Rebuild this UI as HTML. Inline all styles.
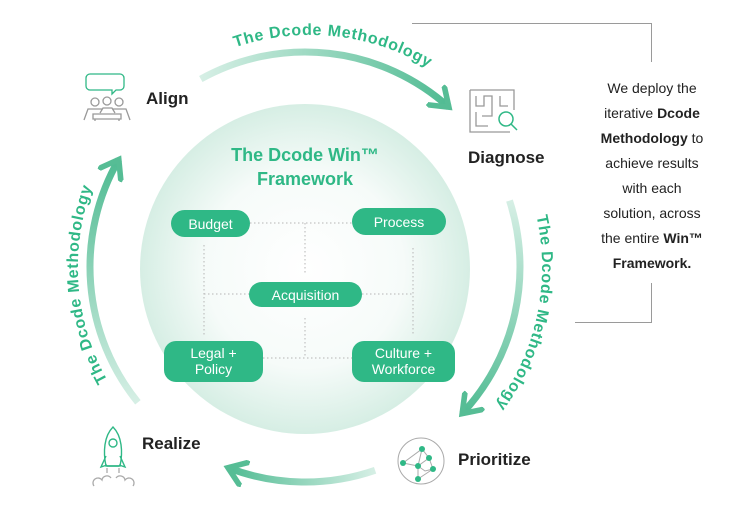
<!DOCTYPE html>
<html><head><meta charset="utf-8"><style>
body{margin:0;background:#fff;}
svg{display:block;font-family:"Liberation Sans",sans-serif;}
</style></head><body>
<svg width="741" height="522" viewBox="0 0 741 522">
<defs>
<radialGradient id="bg" cx="0.5" cy="0.5" r="0.5">
<stop offset="0" stop-color="#ffffff"/><stop offset="0.6" stop-color="#f6fbf9"/><stop offset="1" stop-color="#d6eee4"/>
</radialGradient>
<linearGradient id="gT" gradientUnits="userSpaceOnUse" x1="200.8" y1="79" x2="448.9" y2="107.2"><stop offset="0" stop-color="#d6efe5"/><stop offset="1" stop-color="#4fbb92"/></linearGradient>
<linearGradient id="gR" gradientUnits="userSpaceOnUse" x1="509.5" y1="200.6" x2="462.2" y2="413.6"><stop offset="0" stop-color="#d6efe5"/><stop offset="1" stop-color="#4fbb92"/></linearGradient>
<linearGradient id="gB" gradientUnits="userSpaceOnUse" x1="375.1" y1="470.3" x2="228" y2="467.7"><stop offset="0" stop-color="#d6efe5"/><stop offset="1" stop-color="#4fbb92"/></linearGradient>
<linearGradient id="gL" gradientUnits="userSpaceOnUse" x1="137.9" y1="402.3" x2="118.8" y2="159.5"><stop offset="0" stop-color="#d6efe5"/><stop offset="1" stop-color="#4fbb92"/></linearGradient>
<marker id="ah" viewBox="0 0 12 12" refX="8" refY="6" markerWidth="4" markerHeight="4" orient="auto" markerUnits="strokeWidth">
<path d="M1,1 L8,6 L1,11" fill="none" stroke="#56bd95" stroke-width="2.4" stroke-linecap="square"/>
</marker>
<path id="tp" d="M310,499 A232,232 0 1,1 310,35 A232,232 0 1,1 310,499"/>
</defs>

<circle cx="305" cy="269" r="165" fill="url(#bg)"/>

<g fill="none" stroke-width="7" marker-end="url(#ah)">
<path d="M200.8,79 A215,215 0 0,1 448.9,107.2" stroke="url(#gT)"/>
<path d="M509.5,200.6 A215,215 0 0,1 462.2,413.6" stroke="url(#gR)"/>
<path d="M375.1,470.3 A215,215 0 0,1 228,467.7" stroke="url(#gB)"/>
<path d="M137.9,402.3 A215,215 0 0,1 118.8,159.5" stroke="url(#gL)"/>
</g>

<g fill="#2fb886" font-weight="bold" font-size="16" letter-spacing="0.7">
<text text-anchor="middle"><textPath href="#tp" startOffset="753">The Dcode Methodology</textPath></text>
<text text-anchor="middle"><textPath href="#tp" startOffset="1142">The Dcode Methodology</textPath></text>
<text text-anchor="middle"><textPath href="#tp" startOffset="346">The Dcode Methodology</textPath></text>
</g>

<g stroke="#9a9a9a" stroke-width="1" fill="none">
<path d="M412,23.5 H651.5 V62"/>
<path d="M651.5,283 V322.5 H575"/>
</g>
<g font-size="14" fill="#222" text-anchor="middle">
<text x="652" y="93">We deploy the</text>
<text x="652" y="118">iterative <tspan font-weight="bold">Dcode</tspan></text>
<text x="652" y="143"><tspan font-weight="bold">Methodology</tspan> to</text>
<text x="652" y="168">achieve results</text>
<text x="652" y="193">with each</text>
<text x="652" y="218">solution, across</text>
<text x="652" y="243">the entire <tspan font-weight="bold">Win™</tspan></text>
<text x="652" y="268" font-weight="bold">Framework.</text>
</g>

<g fill="#2fb886" font-weight="bold" font-size="18" text-anchor="middle">
<text x="305" y="161">The Dcode Win™</text>
<text x="305" y="185">Framework</text>
</g>
<g stroke="#b5b5b5" stroke-width="1" stroke-dasharray="1.5,2.5" fill="none">
<path d="M250,223 H352"/>
<path d="M305,223 V273"/>
<path d="M204,245 V335"/>
<path d="M204,294 H249"/>
<path d="M362,294 H413"/>
<path d="M413,248 V336"/>
<path d="M305,318 V358"/>
<path d="M263,358 H352"/>
</g>
<g fill="#2fb886">
<rect x="171" y="210" width="79" height="27" rx="13.5"/>
<rect x="352" y="208" width="94" height="27" rx="13.5"/>
<rect x="249" y="282" width="113" height="25" rx="12.5"/>
<rect x="164" y="341" width="99" height="41" rx="12"/>
<rect x="352" y="341" width="103" height="41" rx="12"/>
</g>
<g fill="#fff" font-size="14" text-anchor="middle">
<text x="210.5" y="229">Budget</text>
<text x="399" y="227">Process</text>
<text x="305.5" y="300">Acquisition</text>
<text x="213.5" y="358">Legal +</text>
<text x="213.5" y="374">Policy</text>
<text x="403.5" y="358">Culture +</text>
<text x="403.5" y="374">Workforce</text>
</g>

<g fill="#222" font-weight="bold" font-size="17">
<text x="146" y="104">Align</text>
<text x="468" y="163">Diagnose</text>
<text x="458" y="465">Prioritize</text>
<text x="142" y="449">Realize</text>
</g>

<g fill="none" stroke-width="1.3">
<path d="M90,74 h30 a4,4 0 0 1 4,4 v8 a4,4 0 0 1 -4,4 h-4 l-4,4 v-4 h-22 a4,4 0 0 1 -4,-4 v-8 a4,4 0 0 1 4,-4z" stroke="#2fb886"/>
<g stroke="#999">
<circle cx="95" cy="102" r="4"/><circle cx="107" cy="101" r="4"/><circle cx="119" cy="102" r="4"/>
<path d="M84,120 l4,-11 h14 M100,113 l3,-5 h9 l3,5 M112,109 h14 l4,11"/>
<path d="M93,114 h28 v5 h-28z"/>
<path d="M95,119 v2 M119,119 v2"/>
</g></g>

<g fill="none" stroke="#999" stroke-width="1.3">
<path d="M470,90 h44 v20 M470,90 v42 h40"/>
<path d="M476,96 v10 h8 v-10 h8 v20 h-10 M476,112 v14 h12 M500,96 v10 h8"/>
</g>
<g fill="none" stroke="#2fb886" stroke-width="1.5">
<circle cx="506" cy="119" r="7"/><path d="M511,124 l6,6"/>
</g>

<g fill="none" stroke="#aaa" stroke-width="1">
<circle cx="421" cy="461" r="23"/>
<path d="M403,463 L422,449 L429,458 L418,466 L425,471 L433,469 L429,458 M403,463 L418,466 L418,479 L433,469 M422,449 L418,466"/>
</g>
<g fill="#2fb886">
<circle cx="422" cy="449" r="3"/><circle cx="429" cy="458" r="3"/><circle cx="403" cy="463" r="3"/>
<circle cx="418" cy="466" r="3"/><circle cx="433" cy="469" r="3"/><circle cx="418" cy="479" r="3"/>
</g>

<g fill="none" stroke="#2fb886" stroke-width="1.4">
<path d="M113,427 C104,436 103,452 106,466 h14 C123,452 122,436 113,427z"/>
<circle cx="113" cy="443" r="4"/>
<path d="M106,456 l-5,11 l6,-2 M120,456 l5,11 l-6,-2 M107,466 h12"/>
</g>
<g fill="none" stroke="#aaa" stroke-width="1.3">
<path d="M94,486 a5,5 0 0 1 8,-6 a5,5 0 0 1 9,-2 M116,478 a5,5 0 0 1 9,2 a5,5 0 0 1 8,6 M107,468 v5 M119,468 v5"/>
</g>
</svg>
</body></html>
